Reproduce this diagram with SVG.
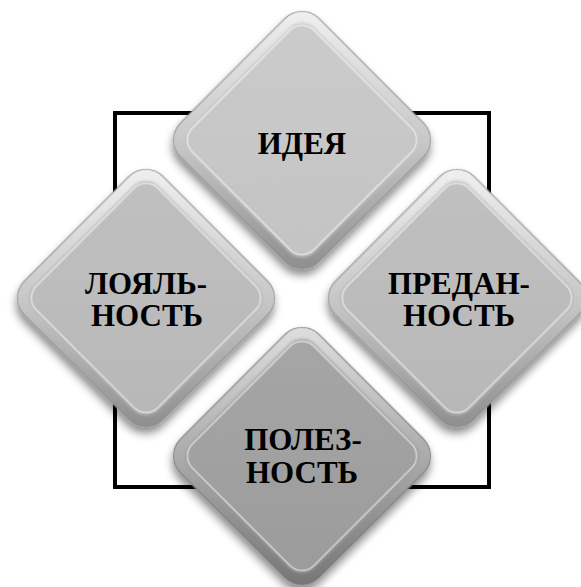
<svg xmlns="http://www.w3.org/2000/svg" width="581" height="587" viewBox="0 0 581 587">
<defs>
<filter id="sh" x="-30%" y="-30%" width="160%" height="160%">
<feDropShadow dx="4" dy="5" stdDeviation="4" flood-color="#000" flood-opacity="0.45"/>
</filter>
<filter id="soft" x="-10%" y="-10%" width="120%" height="120%">
<feGaussianBlur stdDeviation="1.5"/>
</filter>
<linearGradient id="rim" x1="0" y1="0" x2="1" y2="1">
<stop offset="0" stop-color="#f2f2f2"/>
<stop offset="0.5" stop-color="#c8c8c8"/>
<stop offset="1" stop-color="#8a8a8a"/>
</linearGradient>
<linearGradient id="faceL" x1="0" y1="0" x2="1" y2="1">
<stop offset="0" stop-color="#cbcbcb"/>
<stop offset="1" stop-color="#c3c3c3"/>
</linearGradient>
<linearGradient id="faceM" x1="0" y1="0" x2="1" y2="1">
<stop offset="0" stop-color="#c0c0c0"/>
<stop offset="1" stop-color="#b7b7b7"/>
</linearGradient>
<linearGradient id="faceD" x1="0" y1="0" x2="1" y2="1">
<stop offset="0" stop-color="#a6a6a6"/>
<stop offset="1" stop-color="#9b9b9b"/>
</linearGradient>
<linearGradient id="rimD" x1="0" y1="0" x2="1" y2="1">
<stop offset="0" stop-color="#e2e2e2"/>
<stop offset="0.5" stop-color="#ababab"/>
<stop offset="1" stop-color="#727272"/>
</linearGradient>
</defs>
<style>
.rim{fill:url(#rim);stroke:#8c8c8c;stroke-width:1}
.rimD{fill:url(#rimD);stroke:#777;stroke-width:1}
.hl{fill:none;stroke:#ffffff;stroke-opacity:0.55;stroke-width:1.5}
.t{font-family:"Liberation Serif","Times New Roman",serif;font-weight:bold;font-size:31px;fill:#000;text-anchor:middle}
</style>
<rect x="115" y="113" width="374" height="374" fill="#fff" stroke="#000" stroke-width="4"/>
<g id="node-lojalnost">
<g transform="translate(146,298) rotate(45)" filter="url(#sh)">
<rect class="rim" x="-98" y="-98" width="196" height="196" rx="24"/>
<rect fill="url(#faceM)" x="-88" y="-88" width="176" height="176" rx="18" filter="url(#soft)"/>
<rect class="hl" x="-86" y="-86" width="172" height="172" rx="17"/>
</g>
<text class="t" x="146" y="294">ЛОЯЛЬ-</text>
<text class="t" x="147" y="326">НОСТЬ</text>
</g>
<g id="node-predannost">
<g transform="translate(457,298) rotate(45)" filter="url(#sh)">
<rect class="rim" x="-98" y="-98" width="196" height="196" rx="24"/>
<rect fill="url(#faceM)" x="-88" y="-88" width="176" height="176" rx="18" filter="url(#soft)"/>
<rect class="hl" x="-86" y="-86" width="172" height="172" rx="17"/>
</g>
<text class="t" x="459" y="294">ПРЕДАН-</text>
<text class="t" x="459" y="326">НОСТЬ</text>
</g>
<g id="node-ideya">
<g transform="translate(302,140) rotate(45)" filter="url(#sh)">
<rect class="rim" x="-98" y="-98" width="196" height="196" rx="24"/>
<rect fill="url(#faceL)" x="-88" y="-88" width="176" height="176" rx="18" filter="url(#soft)"/>
<rect class="hl" x="-86" y="-86" width="172" height="172" rx="17"/>
</g>
<text class="t" x="302" y="154">ИДЕЯ</text>
</g>
<g id="node-poleznost">
<g transform="translate(302,456) rotate(45)" filter="url(#sh)">
<rect class="rimD" x="-98" y="-98" width="196" height="196" rx="24"/>
<rect fill="url(#faceD)" x="-88" y="-88" width="176" height="176" rx="18" filter="url(#soft)"/>
<rect class="hl" x="-86" y="-86" width="172" height="172" rx="17" stroke-opacity="0.35"/>
</g>
<text class="t" x="303" y="450">ПОЛЕЗ-</text>
<text class="t" x="302" y="483">НОСТЬ</text>
</g>
<g id="connectors"/>
</svg>
